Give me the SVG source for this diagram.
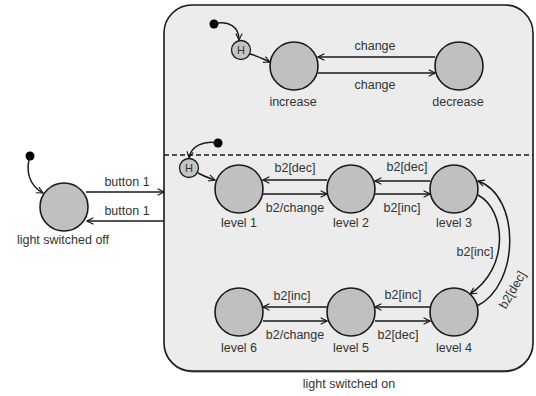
<svg xmlns="http://www.w3.org/2000/svg" width="536" height="396" viewBox="0 0 536 396">
  <defs>
    <marker id="arr" viewBox="0 0 10 10" refX="9" refY="5" markerWidth="8" markerHeight="8" markerUnits="userSpaceOnUse" orient="auto">
      <path d="M1,1 L9,5 L1,9" fill="none" stroke="#1a1a1a" stroke-width="1.4"/>
    </marker>
  </defs>
  <style>
    .state { fill: #c0c0c0; stroke: #1a1a1a; stroke-width: 1.6; }
    .hist { fill: #c4c4c4; stroke: #1a1a1a; stroke-width: 1.3; }
    .init { fill: #000; }
    .edge { fill: none; stroke: #1a1a1a; stroke-width: 1.5; marker-end: url(#arr); }
    .lbl { font-family: "Liberation Sans", Arial, sans-serif; font-size: 12.5px; fill: #333; text-anchor: middle; }
    .hl { font-family: "Liberation Sans", Arial, sans-serif; font-size: 11px; fill: #333; text-anchor: middle; }
  </style>
  <rect width="536" height="396" fill="#fff"/>

  <!-- composite state: light switched on -->
  <g id="light-switched-on">
    <rect x="164" y="6.5" width="369" height="366" rx="28" ry="28" fill="#6a6a6a"/>
    <rect x="164" y="5" width="369" height="366" rx="28" ry="28" fill="#ececec" stroke="#1a1a1a" stroke-width="1.6"/>
    <line x1="164" y1="155" x2="533" y2="155" stroke="#1a1a1a" stroke-width="1.3" stroke-dasharray="5,3"/>
    <text class="lbl" x="349" y="388">light switched on</text>
  </g>

  <!-- initial pseudostates and history states -->
  <g id="init-off"><circle class="init" cx="30" cy="156" r="4.5"/></g>
  <g id="init-mode"><circle class="init" cx="214" cy="24" r="4.5"/></g>
  <g id="init-level"><circle class="init" cx="218" cy="143" r="4.5"/></g>
  <g id="hist-mode">
    <circle class="hist" cx="241" cy="50" r="9.5"/>
    <text class="hl" x="241" y="54">H</text>
  </g>
  <g id="hist-level">
    <circle class="hist" cx="189" cy="168" r="9.5"/>
    <text class="hl" x="189" y="172">H</text>
  </g>

  <!-- states -->
  <g id="light-switched-off">
    <circle class="state" cx="64" cy="207" r="24"/>
    <text class="lbl" x="63" y="244">light switched off</text>
  </g>
  <g id="increase">
    <circle class="state" cx="294" cy="66" r="24"/>
    <text class="lbl" x="293" y="106">increase</text>
  </g>
  <g id="decrease">
    <circle class="state" cx="459" cy="66" r="24"/>
    <text class="lbl" x="458" y="106">decrease</text>
  </g>
  <g id="level1">
    <circle class="state" cx="239" cy="189" r="24"/>
    <text class="lbl" x="239" y="227">level 1</text>
  </g>
  <g id="level2">
    <circle class="state" cx="351" cy="189" r="24"/>
    <text class="lbl" x="351" y="227">level 2</text>
  </g>
  <g id="level3">
    <circle class="state" cx="454" cy="189" r="24"/>
    <text class="lbl" x="454" y="227">level 3</text>
  </g>
  <g id="level4">
    <circle class="state" cx="454" cy="312" r="24"/>
    <text class="lbl" x="454" y="352">level 4</text>
  </g>
  <g id="level5">
    <circle class="state" cx="351" cy="312" r="24"/>
    <text class="lbl" x="351" y="352">level 5</text>
  </g>
  <g id="level6">
    <circle class="state" cx="239" cy="312" r="24"/>
    <text class="lbl" x="239" y="352">level 6</text>
  </g>

  <!-- transitions -->
  <g id="connectors">
    <path class="edge" d="M30,156 C25,172 30,186 43,193"/>
    <path class="edge" d="M86,192 L164,192"/>
    <path class="edge" d="M164,221 L87,221"/>

    <path class="edge" d="M214,24 C229,20 239,27 239,40"/>
    <path class="edge" d="M250,54 C258,56 263,59 270,62"/>
    <path class="edge" d="M435,57 L318,57"/>
    <path class="edge" d="M318,73 L435,73"/>

    <path class="edge" d="M218,143 C204,140 191,146 189,158"/>
    <path class="edge" d="M198,173 C205,177 209,178 215,180"/>
    <path class="edge" d="M327,180 L263,180"/>
    <path class="edge" d="M263,194 L327,194"/>
    <path class="edge" d="M430,181 L375,181"/>
    <path class="edge" d="M375,194 L430,194"/>
    <path class="edge" d="M478,195 C506,210 510,268 470,294"/>
    <path class="edge" d="M477,306 C520,285 521,196 478,181"/>
    <path class="edge" d="M430,307 L375,307"/>
    <path class="edge" d="M375,321 L430,321"/>
    <path class="edge" d="M327,307 L263,307"/>
    <path class="edge" d="M263,321 L327,321"/>
  </g>

  <!-- transition labels -->
  <g id="labels">
    <text class="lbl" x="127" y="186">button 1</text>
    <text class="lbl" x="127" y="215">button 1</text>
    <text class="lbl" x="375" y="50">change</text>
    <text class="lbl" x="375" y="89">change</text>
    <text class="lbl" x="295" y="172">b2[dec]</text>
    <text class="lbl" x="295" y="212">b2/change</text>
    <text class="lbl" x="407" y="171">b2[dec]</text>
    <text class="lbl" x="402" y="212">b2[inc]</text>
    <text class="lbl" x="475" y="256">b2[inc]</text>
    <text class="lbl" transform="translate(516,292) rotate(-60)">b2[dec]</text>
    <text class="lbl" x="403" y="299">b2[inc]</text>
    <text class="lbl" x="398" y="339">b2[dec]</text>
    <text class="lbl" x="292" y="300">b2[inc]</text>
    <text class="lbl" x="295" y="339">b2/change</text>
  </g>
</svg>
